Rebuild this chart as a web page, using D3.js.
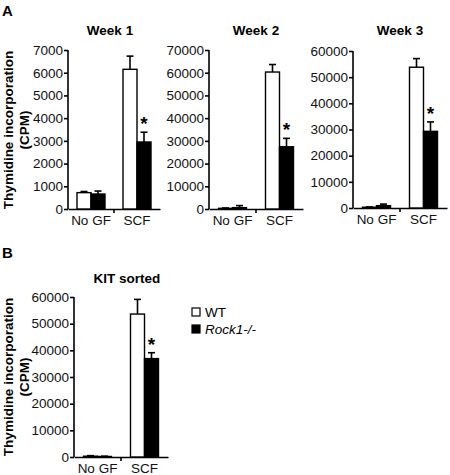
<!DOCTYPE html>
<html><head><meta charset="utf-8">
<script src="https://cdn.jsdelivr.net/npm/d3@7"></script>
<style>body{margin:0;background:#fff}svg{display:block}text{font-family:"Liberation Sans",Arial,sans-serif}</style>
</head><body>
<svg id="c" width="450" height="475"></svg>
<script>
// ---- data ----
const groups = ["No GF", "SCF"];
const seriesNames = ["WT", "Rock1-/-"];
const panelTitles = ["Week 1", "Week 2", "Week 3", "KIT sorted"];
const yMax = [7000, 70000, 60000, 60000];
const yTickStep = [1000, 10000, 10000, 10000];
const wtValues = [[720, 6150], [300, 60300], [300, 53800], [300, 53600]];
const wtErrors = [[50, 580], [150, 3300], [100, 3300], [200, 5500]];
const koValues = [[660, 2950], [600, 27400], [900, 29300], [200, 36900]];
const koErrors = [[130, 430], [900, 3700], [600, 3600], [100, 2200]];
const significant = [[false, true], [false, true], [false, true], [false, true]];

// ---- layout ----
const layout = [
  {x0: 68, x1: 160, y0: 209, y1: 50, tx: 110, ty: 35},
  {x0: 209, x1: 303, y0: 209, y1: 50, tx: 256, ty: 35},
  {x0: 353, x1: 447, y0: 208, y1: 51, tx: 400, ty: 35},
  {x0: 74, x1: 168, y0: 457, y1: 297, tx: 127, ty: 283}
];
const svg = d3.select("#c");
const BW = 14;

layout.forEach((L, i) => {
  const g = svg.append("g");
  const x = d3.scaleBand().domain(groups).range([L.x0, L.x1]);
  const y = d3.scaleLinear().domain([0, yMax[i]]).range([L.y0, L.y1]);
  const ticks = d3.range(0, yMax[i] + 1, yTickStep[i]);
  const ya = g.append("g").attr("transform", `translate(${L.x0},0)`)
    .call(d3.axisLeft(y).tickValues(ticks).tickSize(4).tickSizeOuter(0).tickFormat(d3.format("d")));
  ya.select(".domain").attr("stroke-width", 1.6).attr("d", `M0,${L.y0}V${L.y1}`);
  ya.selectAll(".tick line").attr("stroke-width", 1.6);
  ya.selectAll(".tick text").attr("font-size", 13.5).attr("fill", "#111").attr("x", -5).attr("font-family", '"Liberation Sans",Arial,sans-serif');
  const xa = g.append("g").attr("transform", `translate(0,${L.y0})`)
    .call(d3.axisBottom(x).tickSize(0).tickSizeOuter(0));
  xa.select(".domain").attr("stroke-width", 1.6);
  xa.selectAll(".tick text").attr("font-size", 13.5).attr("fill", "#111").attr("dy", "0.95em").attr("font-family", '"Liberation Sans",Arial,sans-serif');
  // middle separator tick
  xa.append("line").attr("x1", x("SCF")).attr("x2", x("SCF")).attr("y1", 0).attr("y2", 4).attr("stroke", "#000").attr("stroke-width", 1.6);

  groups.forEach((grp, j) => {
    const cx = x(grp) + x.bandwidth() / 2;
    const series = [
      {v: wtValues[i][j], e: wtErrors[i][j], fill: "#fff", xs: cx - BW},
      {v: koValues[i][j], e: koErrors[i][j], fill: "#000", xs: cx}
    ];
    series.forEach(s => {
      const top = y(s.v), etop = y(s.v + s.e);
      const mid = s.xs + BW / 2;
      g.append("line").attr("x1", mid).attr("x2", mid).attr("y1", top).attr("y2", etop).attr("stroke", "#000").attr("stroke-width", 1.6);
      g.append("line").attr("x1", mid - 3.5).attr("x2", mid + 3.5).attr("y1", etop).attr("y2", etop).attr("stroke", "#000").attr("stroke-width", 1.6);
      g.append("rect").attr("x", s.xs).attr("y", top).attr("width", BW).attr("height", L.y0 - top)
        .attr("fill", s.fill).attr("stroke", "#000").attr("stroke-width", 1.4);
    });
    if (significant[i][j]) {
      const s = series[1];
      g.append("text").attr("x", s.xs + BW / 2).attr("y", y(s.v + s.e) - 2).attr("text-anchor", "middle")
        .attr("font-size", 19).attr("font-weight", "bold").text("*");
    }
  });
  g.append("text").attr("x", L.tx).attr("y", L.ty).attr("text-anchor", "middle")
    .attr("font-size", 13.5).attr("font-weight", "bold").text(panelTitles[i]);
});

// y axis labels
[[130], [377]].forEach(([cy]) => {
  svg.append("text").attr("transform", `translate(13,${cy}) rotate(-90)`).attr("text-anchor", "middle")
    .attr("font-size", 13.5).attr("font-weight", "bold").text("Thymidine incorporation");
  svg.append("text").attr("transform", `translate(29,${cy}) rotate(-90)`).attr("text-anchor", "middle")
    .attr("font-size", 13.5).attr("font-weight", "bold").text("(CPM)");
});

// panel letters
svg.append("text").attr("x", 2).attr("y", 16).attr("font-size", 15).attr("font-weight", "bold").text("A");
svg.append("text").attr("x", 2).attr("y", 258).attr("font-size", 15).attr("font-weight", "bold").text("B");

// legend
const leg = svg.append("g");
seriesNames.forEach((n, k) => {
  const yy = 308 + k * 17;
  leg.append("rect").attr("x", 192).attr("y", yy).attr("width", 8).attr("height", 8)
    .attr("fill", k === 0 ? "#fff" : "#000").attr("stroke", "#000").attr("stroke-width", 1.2);
  leg.append("text").attr("x", 205).attr("y", yy + 8.5).attr("font-size", 13.5)
    .attr("font-style", k === 0 ? "normal" : "italic").text(n);
});
</script>
</body></html>
